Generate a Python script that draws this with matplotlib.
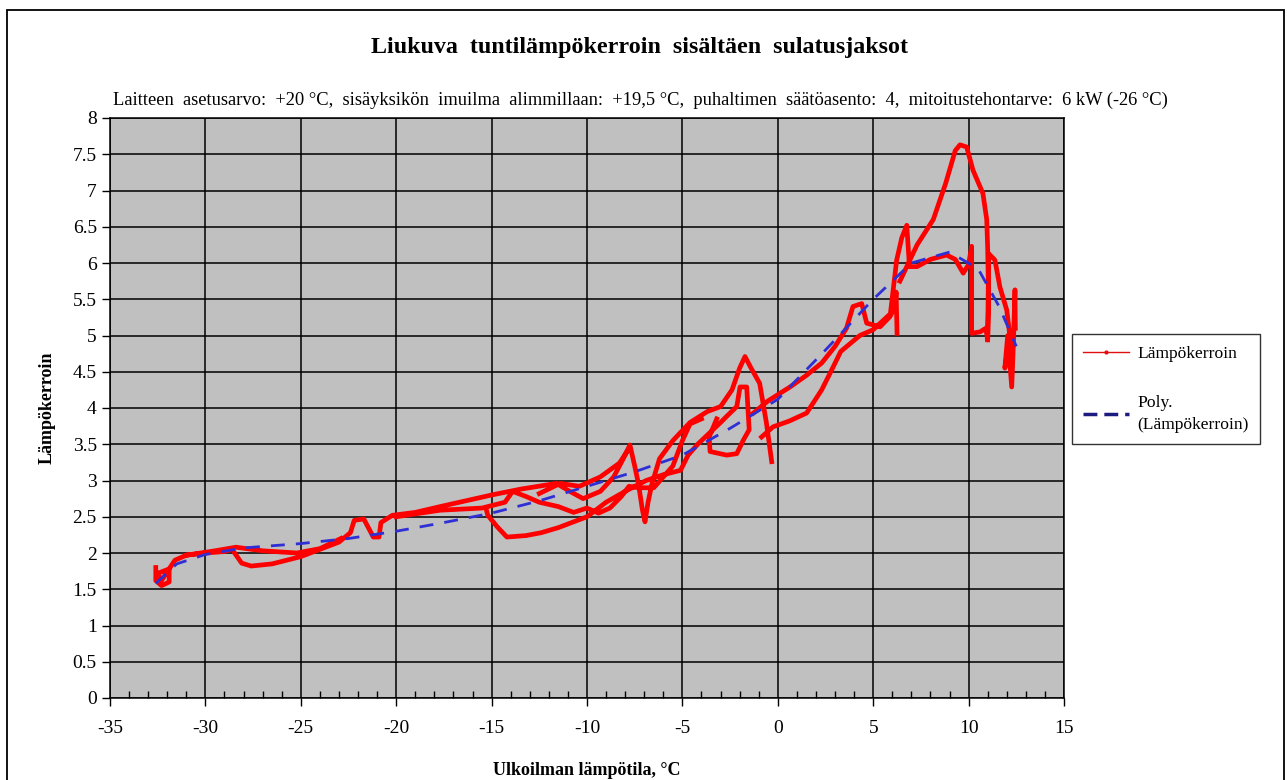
import numpy as np
import matplotlib
matplotlib.use("Agg")
import matplotlib.pyplot as plt
from matplotlib.lines import Line2D
from matplotlib.patches import Rectangle
from matplotlib.ticker import MultipleLocator, FormatStrFormatter

plt.rcParams['font.family'] = ['Liberation Serif', 'DejaVu Serif']
plt.rcParams['axes.unicode_minus'] = False

nan = np.nan

# ulkolämpötila (°C) ja lämpökerroin, luettu kuvasta; nan erottaa jaksot
temp_out = [
    -32.6, -32.6, -32.3, -31.9, -31.9, -32.5, -32.3, -31.6, -31.0, -30.0, -29.0, -28.6,
    -28.1, -27.6, -26.5, -25.0, -24.0, -23.0, -22.4, -22.2, -21.7, -21.4, -21.2, -20.9,
    -20.8, -20.2, -19.0, -17.7, -16.0, -15.0, -13.5, -11.6, -10.9, -10.2, -9.3, -8.6,
    -8.1, -7.75, -7.5, -7.3, -7.1, -6.96, -6.8, -6.6, -6.2, -5.5, -4.6, -3.7, -3.0,
    -2.4, -2.0, -1.72, -1.4, -0.95, -0.6, -0.32, nan,
    -31.0, -29.5, -28.4, -27.0, -25.2, -24.0, -22.9, nan,
    -15.3, -15.2, -14.7, -14.2, -13.2, -12.4, -11.5, -10.7, -10.0, -9.0, -8.0, -6.9,
    -6.0, -5.1, -4.7, -4.2, -3.4, -3.0, -2.7, -2.15, -1.98, -1.63, -1.5, -1.8, -2.15,
    -2.68, -3.55, -3.6, -3.2, nan,
    -20.0, -17.7, -15.5, -14.3, -13.9, -13.2, -12.5, -11.5, -10.7, -10.0, -9.4, -8.8,
    -8.2, -7.8, -7.3, -6.5, -6.0, -5.5, -5.0, -4.6, -4.0, nan,
    -12.5, -11.4, -10.4, -9.3, -8.3, -7.9, nan,
    -1.28, -0.5, 0.64, 1.5, 2.3, 3.0, 3.6, 3.94, 4.4, 4.66, 5.36, 5.88, 6.15, 6.2, 6.25, nan,
    -0.85, -0.25, 0.6, 1.51, 2.3, 2.74, 3.3, 4.3, 5.0, 5.9, 6.23, 6.5, 6.76, 6.9, 7.3,
    8.0, 8.85, 9.3, 9.72, 10.0, 10.16, 10.16, 10.6, 10.9, 11.0, 11.05, 11.38, 11.64,
    12.0, 12.17, 11.9, 12.05, 12.26, 12.35, 12.43, 12.45, nan,
    6.4, 7.3, 8.15, 8.8, 9.3, 9.55, 9.9, 10.23, 10.75, 10.95, 11.0, 11.05, 11.0,
]
cop = [
    1.80, 1.62, 1.55, 1.60, 1.78, 1.72, 1.62, 1.90, 1.97, 2.00, 2.02, 2.05,
    1.86, 1.82, 1.85, 1.95, 2.05, 2.15, 2.28, 2.45, 2.47, 2.32, 2.22, 2.22,
    2.42, 2.52, 2.56, 2.64, 2.74, 2.80, 2.88, 2.96, 2.85, 2.75, 2.85, 3.05,
    3.30, 3.49, 3.20, 2.95, 2.60, 2.43, 2.70, 2.95, 3.30, 3.55, 3.80, 3.95, 4.02,
    4.25, 4.55, 4.71, 4.55, 4.34, 3.80, 3.26, nan,
    1.97, 2.03, 2.08, 2.03, 2.00, 2.06, 2.20, nan,
    2.62, 2.52, 2.36, 2.22, 2.24, 2.28, 2.35, 2.43, 2.50, 2.70, 2.85, 3.00,
    3.08, 3.14, 3.35, 3.50, 3.70, 3.80, 3.88, 4.02, 4.29, 4.29, 3.70, 3.56, 3.37,
    3.35, 3.40, 3.60, 3.85, nan,
    2.50, 2.59, 2.62, 2.70, 2.85, 2.78, 2.70, 2.64, 2.56, 2.62, 2.55, 2.62,
    2.78, 2.92, 2.90, 2.90, 3.05, 3.20, 3.55, 3.78, 3.85, nan,
    2.82, 2.96, 2.92, 3.05, 3.24, 3.40, nan,
    3.93, 4.10, 4.29, 4.45, 4.62, 4.85, 5.10, 5.40, 5.44, 5.17, 5.12, 5.26, 5.40, 5.60, 5.03, nan,
    3.60, 3.74, 3.82, 3.93, 4.25, 4.48, 4.78, 5.00, 5.08, 5.30, 6.04, 6.35, 6.52, 5.95, 5.95,
    6.05, 6.11, 6.05, 5.86, 5.98, 6.23, 5.03, 5.05, 5.10, 4.94, 6.13, 6.04, 5.67,
    5.35, 4.98, 4.55, 5.00, 4.29, 4.90, 5.63, 5.10, nan,
    5.75, 6.25, 6.60, 7.10, 7.55, 7.63, 7.60, 7.28, 6.96, 6.60, 6.20, 5.50, 4.94,
]

# polynomitrendi, luettu kuvasta
trend_x = [-32.6, -31.5, -30.0, -28.0, -25.0, -22.5, -20.0, -17.5, -15.0, -12.5, -10.0,
           -7.5, -5.0, -2.5, 0.0, 2.5, 5.0, 7.0, 9.0, 10.5, 11.6, 12.5]
trend_y = [1.58, 1.85, 1.98, 2.07, 2.13, 2.20, 2.30, 2.42, 2.55, 2.72, 2.92,
           3.12, 3.35, 3.72, 4.12, 4.80, 5.50, 6.00, 6.15, 5.92, 5.40, 4.85]

fig = plt.figure(figsize=(12.87, 7.8), dpi=100)
ax = fig.add_axes([110/1287, 1-698/780, (1064-110)/1287, (698-118)/780])
ax.set_facecolor('#c0c0c0')

ax.plot(temp_out, cop, color='#ff0000', lw=3.4, solid_joinstyle='round', zorder=3)
ax.plot(trend_x, trend_y, color='#2f2fd6', lw=2, dashes=(5, 4), zorder=4)

ax.set_xlim(-35, 15)
ax.set_ylim(0, 8)
ax.xaxis.set_major_locator(MultipleLocator(5))
ax.xaxis.set_minor_locator(MultipleLocator(1))
ax.yaxis.set_major_locator(MultipleLocator(0.5))
ax.yaxis.set_major_formatter(FormatStrFormatter('%g'))
ax.grid(True, which='major', color='black', lw=1.1)
ax.set_axisbelow(True)
for s in ax.spines.values():
    s.set_color('black')
    s.set_linewidth(1.1)
ax.tick_params(axis='both', which='major', labelsize=14, direction='out', length=6, width=1)
ax.tick_params(axis='x', which='minor', direction='in', length=5, width=1)
ax.tick_params(axis='x', pad=10)

ax.set_xlabel('Ulkoilman lämpötila, °C', fontsize=13, fontweight='bold', labelpad=18)
ax.set_ylabel('Lämpökerroin', fontsize=13, fontweight='bold', labelpad=12)

fig.text(0.497, 1-47/780, 'Liukuva  tuntilämpökerroin  sisältäen  sulatusjaksot',
         ha='center', va='center', fontsize=17.3, fontweight='bold')
fig.text(113/1287, 1-100/780,
         'Laitteen  asetusarvo:  +20 °C,  sisäyksikön  imuilma  alimmillaan:  +19,5 °C,  '
         'puhaltimen  säätöasento:  4,  mitoitustehontarve:  6 kW (-26 °C)',
         ha='left', va='center', fontsize=13.3)

handles = [Line2D([], [], color='#e01010', lw=1, marker='.', markersize=4),
           Line2D([], [], color='#1c1c80', lw=2.5, dashes=(4, 2))]
leg = fig.legend(handles, ['Lämpökerroin', 'Poly.\n(Lämpökerroin)'],
                 loc='upper left', bbox_to_anchor=(1072/1287, 1-334/780),
                 borderaxespad=0, fontsize=12.6, frameon=True, fancybox=False,
                 edgecolor='black', handlelength=2.6, labelspacing=1.9,
                 borderpad=0.65, handletextpad=0.5)
leg.get_frame().set_linewidth(1)
for t in leg.get_texts():
    t.set_linespacing(1.5)

fig.patches.append(Rectangle((7/1287, -0.05), (1284-7)/1287, 1.05-10/780,
                             transform=fig.transFigure, fill=False,
                             edgecolor='black', lw=1.3))

fig.savefig('out.png', dpi=100)
